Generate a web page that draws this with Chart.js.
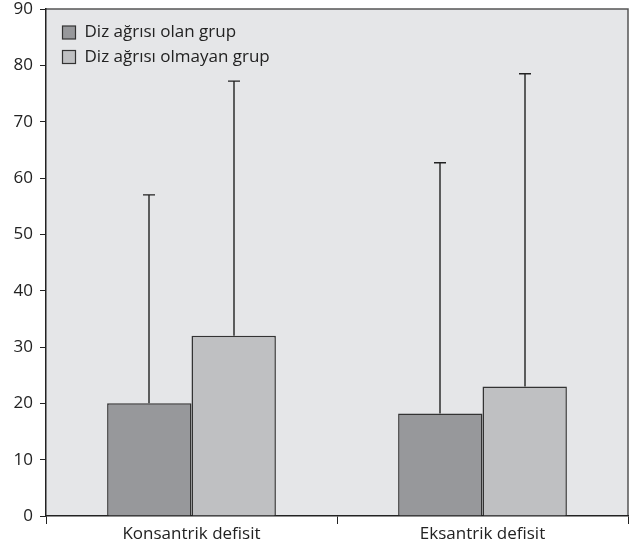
<!DOCTYPE html>
<html><head><meta charset="utf-8">
<script src="https://cdn.jsdelivr.net/npm/chart.js@4"></script>
<style>html,body{margin:0;padding:0;background:#fff}#wrap{width:634px;height:548px}</style>
</head><body><div id="wrap"><canvas id="c" width="634" height="548"></canvas></div>
<script>
const categories = ["Konsantrik defisit", "Eksantrik defisit"];
const seriesNames = ["Diz ağrısı olan grup", "Diz ağrısı olmayan grup"];
const painMeans = [20, 18.2];
const noPainMeans = [32, 23];
const painUpper = [57, 62.7];
const noPainUpper = [77.2, 78.5];
const yTicks = [0,10,20,30,40,50,60,70,80,90];

const FONT = "'Open Sans', sans-serif";
const colors = ["#97989b", "#bfc0c2"];
const uppers = [painUpper, noPainUpper];

const bgPlugin = {
  id: 'bg',
  beforeDraw(chart) {
    const {ctx, chartArea: a} = chart;
    ctx.save();
    ctx.fillStyle = '#e5e6e8';
    ctx.fillRect(a.left, a.top, a.right - a.left, a.bottom - a.top);
    ctx.strokeStyle = '#555';
    ctx.lineWidth = 1.5;
    ctx.beginPath();
    ctx.moveTo(a.left, a.top); ctx.lineTo(a.right, a.top); ctx.lineTo(a.right, a.bottom);
    ctx.stroke();
    ctx.restore();
  }
};

const errPlugin = {
  id: 'err',
  beforeDatasetsDraw(chart) {
    const {ctx} = chart;
    const y = chart.scales.y;
    ctx.save();
    ctx.strokeStyle = '#222';
    ctx.lineWidth = 1.4;
    chart.data.datasets.forEach((ds, di) => {
      const meta = chart.getDatasetMeta(di);
      meta.data.forEach((bar, i) => {
        const top = y.getPixelForValue(uppers[di][i]);
        const x = Math.round(bar.x);
        ctx.beginPath();
        ctx.moveTo(x, bar.y);
        ctx.lineTo(x, top);
        ctx.moveTo(x - 6, top);
        ctx.lineTo(x + 6, top);
        ctx.stroke();
      });
    });
    ctx.restore();
  }
};

const legendPlugin = {
  id: 'customLegend',
  afterDraw(chart) {
    const {ctx, chartArea: a} = chart;
    ctx.save();
    ctx.font = "17px " + FONT;
    ctx.textBaseline = 'middle';
    seriesNames.forEach((name, i) => {
      const yc = a.top + 23.5 + i * 24.5;
      const bx = a.left + 16.5;
      ctx.fillStyle = colors[i];
      ctx.fillRect(bx, yc - 6.5, 13, 13);
      ctx.strokeStyle = '#333';
      ctx.lineWidth = 1.2;
      ctx.strokeRect(bx, yc - 6.5, 13, 13);
      ctx.fillStyle = '#222';
      ctx.fillText(name, bx + 22, yc);
    });
    ctx.restore();
  }
};

new Chart(document.getElementById('c'), {
  type: 'bar',
  data: {
    labels: categories,
    datasets: [
      { label: seriesNames[0], data: painMeans, backgroundColor: colors[0], borderColor: '#333', borderWidth: 1.5, borderSkipped: 'bottom' },
      { label: seriesNames[1], data: noPainMeans, backgroundColor: colors[1], borderColor: '#333', borderWidth: 1.5, borderSkipped: 'bottom' }
    ]
  },
  options: {
    responsive: false,
    animation: false,
    devicePixelRatio: 1,
    layout: { padding: { top: 9, right: 6, left: 0, bottom: 0 } },
    datasets: { bar: { categoryPercentage: 0.58, barPercentage: 1 } },
    plugins: { legend: { display: false }, tooltip: { enabled: false } },
    scales: {
      x: {
        grid: { display: true, drawOnChartArea: false, drawTicks: true, tickLength: 8, color: '#222', offset: true },
        border: { display: true, color: '#222', width: 1.5 },
        ticks: { color: '#222', font: { family: FONT, size: 17 }, padding: 0 },
        afterFit(s) { s.height = 32; s.paddingLeft = 0; s.paddingRight = 0; }
      },
      y: {
        min: 0, max: 90,
        afterBuildTicks(s) { s.ticks = yTicks.map(v => ({ value: v })); },
        grid: { display: true, drawOnChartArea: false, drawTicks: true, tickLength: 6, color: '#222' },
        border: { display: true, color: '#222', width: 1.5 },
        ticks: { color: '#222', font: { family: FONT, size: 17 }, padding: 7 },
        afterFit(s) { s.width = 46; s.paddingTop = 0; s.paddingBottom = 0; }
      }
    }
  },
  plugins: [bgPlugin, errPlugin, legendPlugin]
});
</script></body></html>
